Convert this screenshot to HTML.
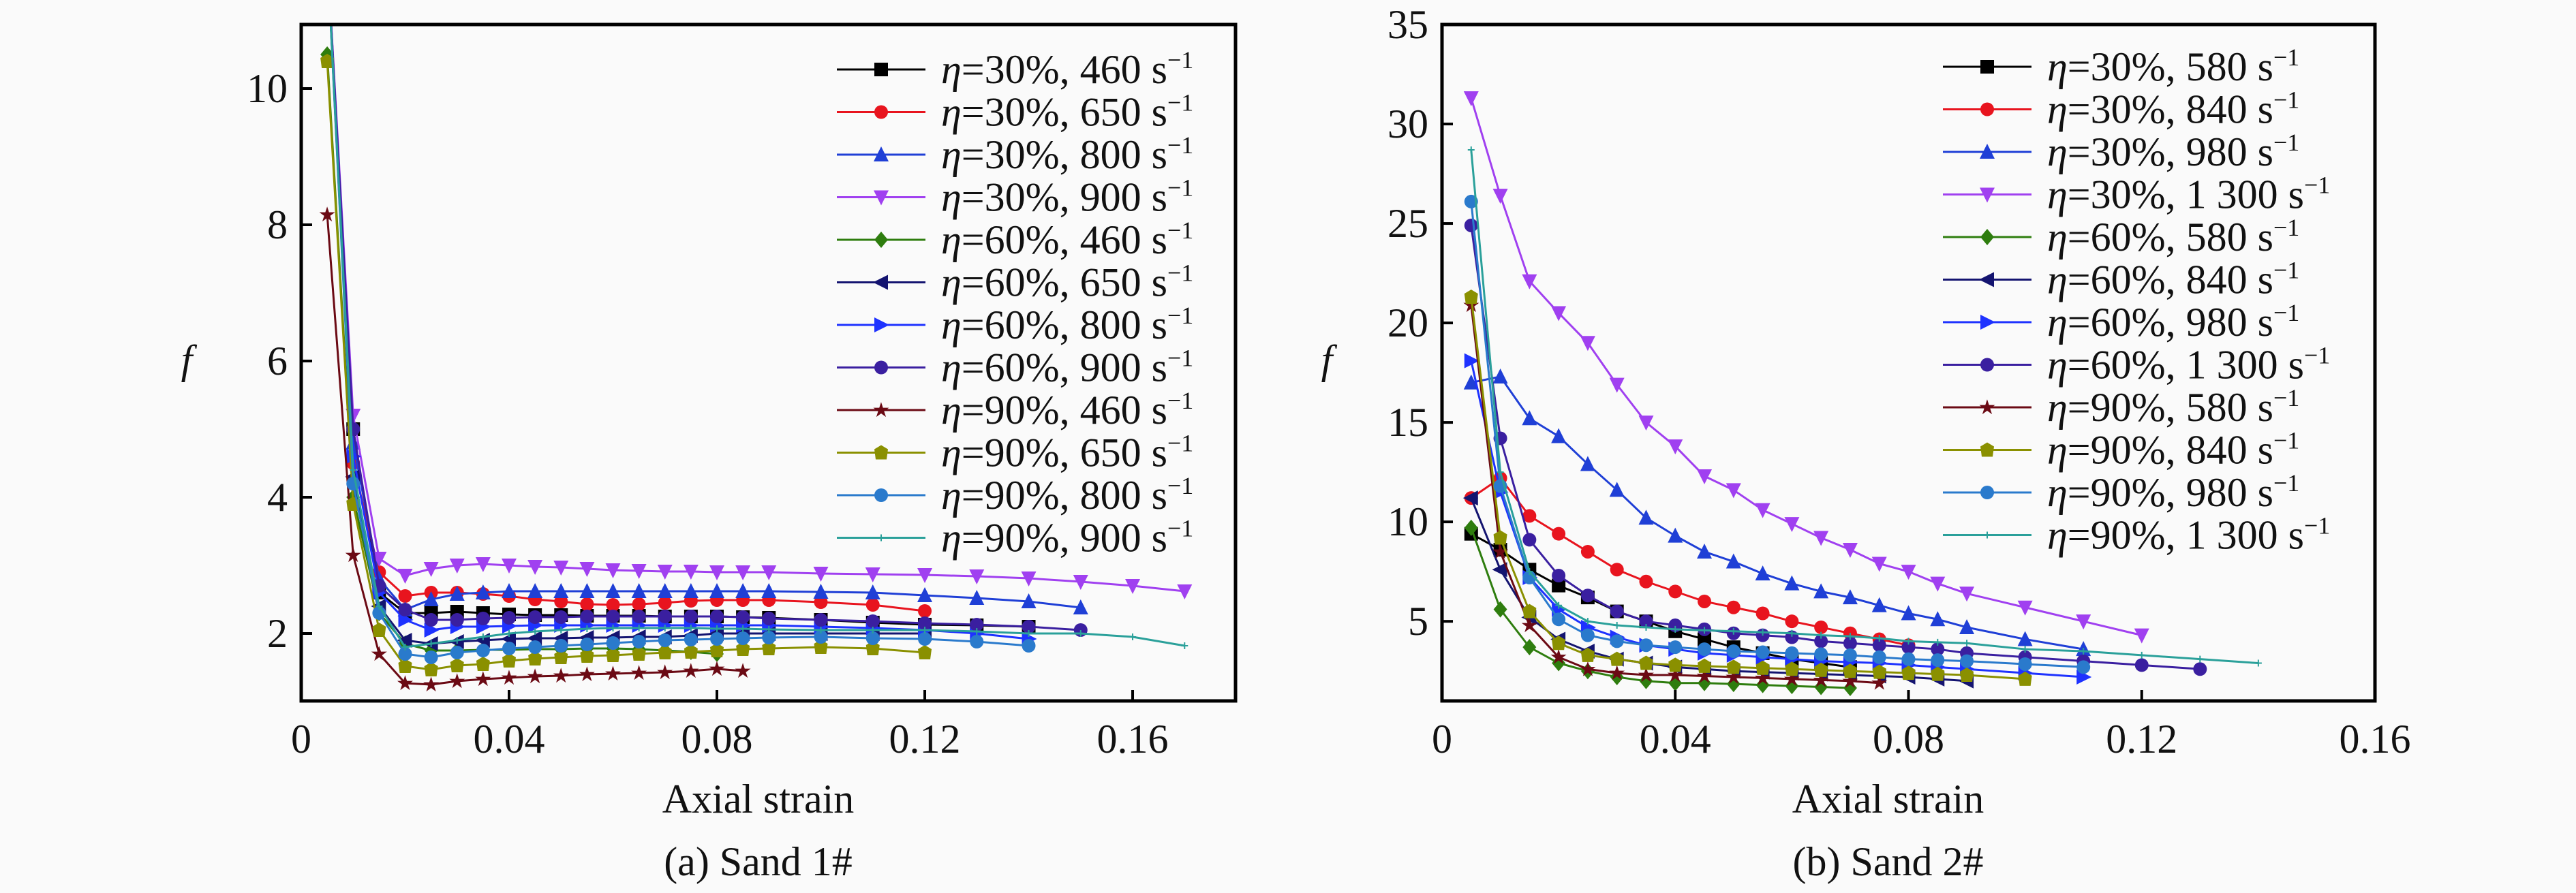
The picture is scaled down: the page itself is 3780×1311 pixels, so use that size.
<!DOCTYPE html>
<html><head><meta charset="utf-8"><style>
html,body{margin:0;padding:0;background:#fafafa}
svg{display:block}
text{font-family:"Liberation Serif",serif;fill:#111}
</style></head><body>
<svg id="chart" width="3780" height="1311" viewBox="0 0 3780 1311" font-family="Liberation Serif, serif" xmlns="http://www.w3.org/2000/svg">
<rect width="3780" height="1311" fill="#fafafa"/>
</svg>
<script>
// ---------- DATA ----------
const xTicksA = [0, 0.04, 0.08, 0.12, 0.16];
const xTickLabelsA = ["0", "0.04", "0.08", "0.12", "0.16"];
const yTicksA = [2, 4, 6, 8, 10];
const xTicksB = [0, 0.04, 0.08, 0.12, 0.16];
const xTickLabelsB = ["0", "0.04", "0.08", "0.12", "0.16"];
const yTicksB = [5, 10, 15, 20, 25, 30, 35];

const xsA1 = [0.005,0.01,0.015,0.02,0.025,0.03,0.035,0.04,0.045,0.05,0.055,0.06,0.065,0.07,0.075,0.08,0.085,0.09,0.1,0.11,0.12,0.13,0.14];
const namesA = ["η=30%, 460 s","η=30%, 650 s","η=30%, 800 s","η=30%, 900 s","η=60%, 460 s","η=60%, 650 s","η=60%, 800 s","η=60%, 900 s","η=90%, 460 s","η=90%, 650 s","η=90%, 800 s","η=90%, 900 s"];
const valsA = [
 [12,5.0,2.6,2.3,2.3,2.32,2.3,2.28,2.27,2.27,2.26,2.26,2.26,2.25,2.25,2.25,2.24,2.23,2.2,2.16,2.13,2.12,2.1],
 [12,4.5,2.9,2.55,2.6,2.6,2.58,2.55,2.5,2.47,2.43,2.42,2.43,2.45,2.48,2.49,2.49,2.49,2.46,2.42,2.33],
 [12,4.8,2.8,2.35,2.5,2.58,2.6,2.62,2.62,2.62,2.62,2.62,2.62,2.62,2.62,2.62,2.62,2.62,2.61,2.6,2.56,2.52,2.47,2.38],
 [12,5.2,3.1,2.85,2.95,3.0,3.02,3.0,2.98,2.97,2.95,2.93,2.92,2.91,2.91,2.9,2.9,2.9,2.88,2.87,2.86,2.84,2.81,2.76,2.7,2.62],
 [10.5,4.0,2.3,1.85,1.75,1.75,1.76,1.76,1.77,1.77,1.78,1.78,1.77,1.75,1.73,1.7],
 [12,4.3,2.4,1.9,1.85,1.88,1.9,1.92,1.93,1.93,1.94,1.94,1.95,1.95,1.97,2.0,2.0,2.0,2.0,2.0,2.0],
 [12,4.6,2.6,2.2,2.05,2.1,2.1,2.11,2.12,2.12,2.12,2.12,2.12,2.12,2.12,2.12,2.12,2.12,2.1,2.08,2.05,2.0,1.92],
 [12,5.0,2.7,2.35,2.2,2.2,2.22,2.23,2.24,2.24,2.25,2.25,2.25,2.25,2.25,2.25,2.24,2.22,2.2,2.18,2.15,2.13,2.1,2.05],
 [8.15,3.15,1.7,1.27,1.25,1.3,1.33,1.35,1.37,1.38,1.4,1.41,1.42,1.43,1.45,1.48,1.45],
 [10.4,3.9,2.05,1.52,1.47,1.53,1.55,1.6,1.63,1.65,1.67,1.68,1.7,1.72,1.73,1.75,1.77,1.78,1.8,1.78,1.72],
 [12,4.2,2.3,1.7,1.65,1.72,1.75,1.78,1.8,1.82,1.84,1.86,1.88,1.9,1.91,1.92,1.93,1.94,1.95,1.93,1.92,1.88,1.82],
 [12,4.4,2.4,1.8,1.85,1.9,1.95,2.0,2.03,2.05,2.07,2.08,2.08,2.08,2.08,2.07,2.07,2.06,2.05,2.05,2.05,2.03,2.0,2.0,1.95,1.82]
];
const xsB1 = [0.005,0.01,0.015,0.02,0.025,0.03,0.035,0.04,0.045,0.05,0.055,0.06,0.065,0.07,0.075,0.08,0.085,0.09,0.1,0.11,0.12,0.13,0.14];
const namesB = ["η=30%, 580 s","η=30%, 840 s","η=30%, 980 s","η=30%, 1 300 s","η=60%, 580 s","η=60%, 840 s","η=60%, 980 s","η=60%, 1 300 s","η=90%, 580 s","η=90%, 840 s","η=90%, 980 s","η=90%, 1 300 s"];
const valsB = [
 [9.4,8.6,7.6,6.8,6.2,5.5,5.0,4.5,4.1,3.7,3.4,3.1,2.9,2.7],
 [11.2,12.2,10.3,9.4,8.5,7.6,7.0,6.5,6.0,5.7,5.4,5.0,4.7,4.4,4.1,3.8],
 [17,17.3,15.2,14.3,12.9,11.6,10.2,9.3,8.5,8.0,7.4,6.9,6.5,6.2,5.8,5.4,5.1,4.7,4.1,3.6],
 [31.3,26.4,22.1,20.5,19.0,16.9,15.0,13.8,12.3,11.6,10.6,9.9,9.2,8.6,7.9,7.5,6.9,6.4,5.7,5.0,4.3],
 [9.7,5.6,3.7,2.9,2.5,2.2,2.0,1.9,1.9,1.85,1.8,1.75,1.7,1.65],
 [11.2,7.6,5.2,4.1,3.5,3.1,2.9,2.7,2.6,2.5,2.45,2.4,2.35,2.3,2.25,2.2,2.1,2.0],
 [18.1,11.5,7.2,5.6,4.7,4.2,3.8,3.6,3.4,3.3,3.2,3.1,3.0,2.95,2.9,2.8,2.7,2.6,2.4,2.2],
 [24.9,14.2,9.1,7.3,6.3,5.5,5.0,4.8,4.6,4.4,4.3,4.2,4.0,3.9,3.8,3.7,3.6,3.4,3.2,3.0,2.8,2.6],
 [20.9,8.5,4.8,3.2,2.6,2.4,2.3,2.3,2.25,2.2,2.15,2.1,2.05,2.0,1.9],
 [21.3,9.2,5.5,3.9,3.3,3.1,2.9,2.8,2.75,2.7,2.65,2.6,2.55,2.5,2.45,2.4,2.35,2.3,2.1],
 [26.1,11.8,7.2,5.1,4.3,4.0,3.8,3.7,3.6,3.5,3.45,3.4,3.35,3.3,3.2,3.1,3.05,3.0,2.85,2.7],
 [28.7,12.5,7.5,5.8,5.0,4.8,4.7,4.6,4.55,4.5,4.45,4.4,4.3,4.25,4.15,4.0,3.95,3.9,3.6,3.5,3.3,3.1,2.9]
];
const xsAExt = [0.15,0.16,0.17];
const colors = ["#000000","#e8141e","#1f3fd6","#a040f0","#2e7d0e","#141470","#1e32ff","#3a1fa0","#6b0a14","#8a9000","#2a7acc","#2aa09a"];
const markers = ["square","circle","tri","dtri","diamond","ltri","rtri","circle","star","hex","circle","plus"];

// ---------- DRAW ----------
const NS = "http://www.w3.org/2000/svg";
const svg = document.getElementById("chart");
function mk(tag, attrs, parent){const e=document.createElementNS(NS,tag);for(const k in attrs)e.setAttribute(k,attrs[k]);(parent||svg).appendChild(e);return e;}
function marker(g,type,x,y,c){
  const s=10;let e;
  if(type==="square") e=mk("rect",{x:x-s,y:y-s,width:2*s,height:2*s,fill:c},g);
  else if(type==="circle") e=mk("circle",{cx:x,cy:y,r:s,fill:c},g);
  else if(type==="tri") e=mk("polygon",{points:`${x},${y-s-2} ${x-s-1},${y+s} ${x+s+1},${y+s}`,fill:c},g);
  else if(type==="dtri") e=mk("polygon",{points:`${x},${y+s+2} ${x-s-1},${y-s} ${x+s+1},${y-s}`,fill:c},g);
  else if(type==="ltri") e=mk("polygon",{points:`${x-s-2},${y} ${x+s},${y-s-1} ${x+s},${y+s+1}`,fill:c},g);
  else if(type==="rtri") e=mk("polygon",{points:`${x+s+2},${y} ${x-s},${y-s-1} ${x-s},${y+s+1}`,fill:c},g);
  else if(type==="diamond") e=mk("polygon",{points:`${x},${y-s-2} ${x+s},${y} ${x},${y+s+2} ${x-s},${y}`,fill:c},g);
  else if(type==="hex") e=mk("polygon",{points:`${x-s},${y-5} ${x},${y-s-1} ${x+s},${y-5} ${x+s-2},${y+s} ${x-s+2},${y+s}`,fill:c},g);
  else if(type==="star") e=mk("text",{x:x,y:y+10,"text-anchor":"middle","font-size":30,fill:c,style:"fill:"+c},g),e.textContent="★";
  else if(type==="plus") e=mk("path",{d:`M${x-5},${y}H${x+5}M${x},${y-5}V${y+5}`,stroke:c,"stroke-width":2},g);
  
  
}
function panel(o){
  const X=v=>o.x0+(v-o.xmin)/(o.xmax-o.xmin)*(o.x1-o.x0);
  const Y=v=>o.y1-(v-o.ymin)/(o.ymax-o.ymin)*(o.y1-o.y0);
  const g=mk("g",{});
  
  
  const cp=mk("clipPath",{id:o.name+"-clip"},g);
  mk("rect",{x:o.x0,y:o.y0,width:o.x1-o.x0,height:o.y1-o.y0},cp);
  const sg=mk("g",{"clip-path":`url(#${o.name}-clip)`},g);
  o.vals.forEach((ys,i)=>{
    const xs=o.xs.slice(0,ys.length);
    const s=mk("g",{},sg);
    
    
    const pl=mk("polyline",{points:xs.map((x,j)=>X(x)+","+Y(ys[j])).join(" "),fill:"none",stroke:colors[i],"stroke-width":3},s);
    
    
    xs.forEach((x,j)=>marker(s,markers[i],X(x),Y(ys[j]),colors[i]));
  });
  const box=mk("rect",{x:o.x0,y:o.y0,width:o.x1-o.x0,height:o.y1-o.y0,fill:"none",stroke:"#000","stroke-width":5},g);
  
  
  o.xt.forEach((v,i)=>{
    const t=mk("line",{x1:X(v),x2:X(v),y1:o.y1,y2:o.y1-16,stroke:"#000","stroke-width":4},g);
    
    
    const l=mk("text",{x:X(v),y:o.y1+76,"text-anchor":"middle","font-size":60},g);
    l.textContent=o.xl[i];
    
    
  });
  o.yt.forEach(v=>{
    const t=mk("line",{x1:o.x0,x2:o.x0+16,y1:Y(v),y2:Y(v),stroke:"#000","stroke-width":4},g);
    
    
    const l=mk("text",{x:o.x0-20,y:Y(v)+20,"text-anchor":"end","font-size":60},g);
    l.textContent=String(v);
    
    
  });
  const xt=mk("text",{x:(o.x0+o.x1)/2+(o.xtOff||0),y:1193,"text-anchor":"middle","font-size":60},g);
  xt.textContent="Axial strain";
  
  
  const yt=mk("text",{x:o.ylx,y:548,"text-anchor":"middle","font-size":60,"font-style":"italic"},g);
  yt.textContent="f";
  
  
  const cap=mk("text",{x:(o.x0+o.x1)/2+(o.xtOff||0),y:1285,"text-anchor":"middle","font-size":60},g);
  cap.textContent=o.caption;
  
  
  const lg=mk("g",{},g);
  
  
  o.names.forEach((n,i)=>{
    const y=o.ly+i*62.5;
    const e=mk("g",{},lg);
    
    
    mk("line",{x1:o.lx,x2:o.lx+130,y1:y,y2:y,stroke:colors[i],"stroke-width":3},e);
    marker(e,markers[i],o.lx+65,y,colors[i]);
    const t=mk("text",{x:o.lx+153,y:y+20,"font-size":60},e);
    const parts=n.split("=");
    const a=mk("tspan",{"font-style":"italic"},t);a.textContent="η";
    const b=mk("tspan",{},t);b.textContent="="+parts[1];
    const c=mk("tspan",{dy:-22,"font-size":36},t);c.textContent="−1";
  });
}
panel({name:"panel-sand-1",x0:442,x1:1813,y0:36,y1:1029,xmin:0,xmax:0.1798,ymin:1.01,ymax:10.94,
  xs:xsA1.concat(xsAExt),vals:valsA,names:namesA,xt:xTicksA,xl:xTickLabelsA,yt:yTicksA,ylx:274,caption:"(a) Sand 1#",
  lx:1228,ly:102,xtOff:-15});
panel({name:"panel-sand-2",x0:2116,x1:3485,y0:36,y1:1029,xmin:0,xmax:0.16,ymin:1.0,ymax:35,
  xs:xsB1,vals:valsB,names:namesB,xt:xTicksB,xl:xTickLabelsB,yt:yTicksB,ylx:1947,caption:"(b) Sand 2#",
  lx:2851,ly:98,xtOff:-30});
</script>
</body></html>
